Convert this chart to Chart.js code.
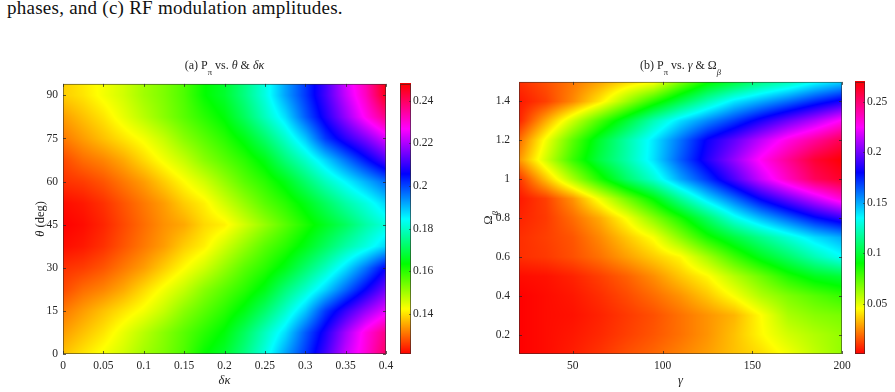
<!DOCTYPE html>
<html>
<head>
<meta charset="utf-8">
<script src="https://cdn.jsdelivr.net/npm/chart.js@4.4.1/dist/chart.umd.min.js"></script>
<style>
  body { margin: 0; background: #fff; width: 895px; height: 392px; overflow: hidden; position: relative; }
  #cap { position: absolute; left: 7px; top: -2px; font: 19px/20px "Liberation Serif", serif; letter-spacing: 0.25px; color: #111; white-space: nowrap; }
  canvas { position: absolute; top: 50px; }
  #pa { left: 0; }
  #pb { left: 450px; }
</style>
</head>
<body>
<div id="cap">phases, and (c) RF modulation amplitudes.</div>
<canvas id="pa" width="450" height="342"></canvas>
<canvas id="pb" width="445" height="342"></canvas>
<script>
// ---- panel (a): P_pi over delta-kappa (columns) and theta (rows) ----
const dKappa = [0, 0.025, 0.05, 0.075, 0.1, 0.125, 0.15, 0.175, 0.2, 0.225, 0.25, 0.275, 0.3, 0.325, 0.35, 0.375, 0.4];
const thetaDeg = [0, 7.5, 15, 22.5, 30, 37.5, 45, 52.5, 60, 67.5, 75, 82.5, 90, 97.5];
const pPiA = [
  [0.137, 0.140, 0.143, 0.146, 0.150, 0.153, 0.157, 0.163, 0.167, 0.174, 0.182, 0.192, 0.201, 0.211, 0.222, 0.230, 0.240],
  [0.134, 0.137, 0.140, 0.144, 0.148, 0.152, 0.156, 0.160, 0.164, 0.171, 0.179, 0.187, 0.198, 0.208, 0.219, 0.229, 0.237],
  [0.131, 0.134, 0.137, 0.140, 0.143, 0.147, 0.152, 0.156, 0.160, 0.165, 0.172, 0.180, 0.189, 0.201, 0.210, 0.218, 0.225],
  [0.127, 0.130, 0.132, 0.135, 0.139, 0.143, 0.147, 0.152, 0.156, 0.160, 0.165, 0.173, 0.180, 0.188, 0.197, 0.206, 0.215],
  [0.125, 0.126, 0.128, 0.131, 0.134, 0.138, 0.142, 0.146, 0.151, 0.156, 0.160, 0.165, 0.172, 0.179, 0.187, 0.196, 0.206],
  [0.122, 0.123, 0.125, 0.128, 0.131, 0.134, 0.138, 0.141, 0.146, 0.151, 0.156, 0.160, 0.165, 0.171, 0.177, 0.182, 0.188],
  [0.121, 0.122, 0.124, 0.127, 0.130, 0.133, 0.135, 0.139, 0.141, 0.146, 0.151, 0.156, 0.161, 0.166, 0.171, 0.177, 0.182],
  [0.122, 0.123, 0.125, 0.128, 0.131, 0.134, 0.138, 0.141, 0.146, 0.151, 0.156, 0.160, 0.165, 0.171, 0.177, 0.182, 0.188],
  [0.125, 0.126, 0.128, 0.131, 0.134, 0.138, 0.142, 0.146, 0.151, 0.156, 0.160, 0.165, 0.172, 0.179, 0.185, 0.191, 0.197],
  [0.127, 0.130, 0.132, 0.135, 0.139, 0.143, 0.147, 0.152, 0.156, 0.160, 0.165, 0.173, 0.180, 0.188, 0.196, 0.204, 0.212],
  [0.131, 0.134, 0.137, 0.140, 0.143, 0.147, 0.152, 0.156, 0.160, 0.165, 0.172, 0.180, 0.189, 0.201, 0.209, 0.216, 0.224],
  [0.134, 0.137, 0.140, 0.144, 0.148, 0.152, 0.156, 0.160, 0.164, 0.171, 0.179, 0.187, 0.198, 0.208, 0.218, 0.228, 0.237],
  [0.138, 0.140, 0.143, 0.146, 0.150, 0.153, 0.157, 0.163, 0.167, 0.174, 0.182, 0.192, 0.201, 0.211, 0.222, 0.232, 0.246],
  [0.138, 0.141, 0.143, 0.146, 0.150, 0.153, 0.157, 0.163, 0.167, 0.174, 0.182, 0.192, 0.201, 0.211, 0.224, 0.234, 0.248]
];
const dKappaTicks = [0, 0.05, 0.1, 0.15, 0.2, 0.25, 0.3, 0.35, 0.4];
const thetaTicks = [0, 15, 30, 45, 60, 75, 90];
const cbTicksA = [0.14, 0.16, 0.18, 0.2, 0.22, 0.24];
const cbRangeA = [0.121, 0.248];

// ---- panel (b): P_pi over gamma (columns) and Omega_beta (rows) ----
const gammaVals = [20, 35, 50, 65, 80, 95, 110, 125, 140, 155, 170, 185, 200];
const omegaBeta = [0.1, 0.2, 0.3, 0.4, 0.5, 0.6, 0.7, 0.8, 0.9, 1.0, 1.1, 1.2, 1.3, 1.4, 1.5];
const pPiB = [
  [0.000, 0.002, 0.005, 0.009, 0.014, 0.018, 0.023, 0.028, 0.034, 0.039, 0.047, 0.056, 0.064],
  [0.000, 0.002, 0.004, 0.007, 0.011, 0.015, 0.020, 0.026, 0.034, 0.044, 0.053, 0.059, 0.064],
  [0.000, 0.002, 0.003, 0.006, 0.010, 0.014, 0.020, 0.026, 0.032, 0.045, 0.060, 0.066, 0.069],
  [0.000, 0.002, 0.004, 0.008, 0.013, 0.019, 0.026, 0.035, 0.046, 0.059, 0.068, 0.075, 0.081],
  [0.002, 0.003, 0.006, 0.011, 0.017, 0.025, 0.035, 0.044, 0.058, 0.071, 0.085, 0.095, 0.100],
  [0.008, 0.010, 0.014, 0.020, 0.028, 0.036, 0.044, 0.061, 0.079, 0.095, 0.108, 0.122, 0.134],
  [0.008, 0.011, 0.015, 0.024, 0.035, 0.046, 0.066, 0.086, 0.101, 0.115, 0.128, 0.141, 0.150],
  [0.006, 0.010, 0.019, 0.030, 0.046, 0.066, 0.086, 0.108, 0.131, 0.148, 0.163, 0.178, 0.189],
  [0.004, 0.011, 0.026, 0.048, 0.070, 0.091, 0.117, 0.141, 0.161, 0.182, 0.199, 0.216, 0.233],
  [0.009, 0.034, 0.060, 0.085, 0.108, 0.127, 0.151, 0.171, 0.193, 0.216, 0.236, 0.254, 0.263],
  [0.026, 0.053, 0.080, 0.102, 0.120, 0.140, 0.164, 0.186, 0.206, 0.227, 0.244, 0.261, 0.270],
  [0.019, 0.047, 0.074, 0.098, 0.119, 0.139, 0.160, 0.182, 0.197, 0.214, 0.230, 0.243, 0.256],
  [0.006, 0.030, 0.054, 0.077, 0.099, 0.122, 0.141, 0.156, 0.170, 0.185, 0.199, 0.212, 0.227],
  [0.004, 0.011, 0.024, 0.041, 0.062, 0.083, 0.103, 0.122, 0.139, 0.150, 0.161, 0.173, 0.184],
  [0.008, 0.014, 0.021, 0.029, 0.038, 0.045, 0.068, 0.088, 0.100, 0.113, 0.122, 0.134, 0.143]
];
const gammaTicks = [50, 100, 150, 200];
const omegaTicks = [0.2, 0.4, 0.6, 0.8, 1, 1.2, 1.4];
const cbTicksB = [0.05, 0.1, 0.15, 0.2, 0.25];
const cbRangeB = [0, 0.27];

const FONT = '"Liberation Serif", "Times New Roman", serif';
const INK = '#262626';

// matlab-like hsv colormap, f in [0,1]
function hsvRGB(f) {
  f = Math.min(Math.max(f, 0), 1);
  const h = f * 6, i = Math.floor(h) % 6, t = h - Math.floor(h);
  const rgb = [[1, t, 0], [1 - t, 1, 0], [0, 1, t], [0, 1 - t, 1], [t, 0, 1], [1, 0, 1 - t]][i];
  return rgb.map(c => Math.round(c * 255));
}

// text with italic / subscript pieces, centred on (x, y)
function richText(ctx, segs, x, y, size, rot) {
  const fontOf = s => (s.it ? 'italic ' : '') + (s.sub ? size * 0.72 : size) + 'px ' + FONT;
  ctx.save();
  ctx.translate(x, y);
  ctx.rotate(rot || 0);
  let w = 0;
  segs.forEach(s => { ctx.font = fontOf(s); w += ctx.measureText(s.t).width; });
  let cx = -w / 2;
  ctx.fillStyle = INK;
  ctx.textAlign = 'left';
  ctx.textBaseline = 'alphabetic';
  segs.forEach(s => {
    ctx.font = fontOf(s);
    ctx.fillText(s.t, cx, size * 0.35 + (s.sub ? size * 0.45 : 0));
    cx += ctx.measureText(s.t).width;
  });
  ctx.restore();
}

// fractional grid position of v on an evenly spaced axis
function gridPos(arr, v) {
  const t = (v - arr[0]) / (arr[1] - arr[0]);
  return Math.min(Math.max(t, 0), arr.length - 1);
}

function panelPlugin(p) {
  return {
    id: 'heat' + p.key,
    afterDraw(chart) {
      const ctx = chart.ctx, ca = chart.chartArea;
      const {x, y, cb} = chart.scales;
      const span = p.range[1] - p.range[0];

      // heat map, shaded between grid values, placed by the x / y scales
      const w = Math.round(ca.width), h = Math.round(ca.height);
      const img = ctx.createImageData(w, h);
      const nx = p.xs.length, ny = p.ys.length;
      for (let py = 0; py < h; py++) {
        const fy = gridPos(p.ys, y.getValueForPixel(ca.top + py + 0.5));
        const j0 = Math.min(Math.floor(fy), ny - 2), ty = fy - j0;
        const r0 = p.z[j0], r1 = p.z[j0 + 1];
        for (let px = 0; px < w; px++) {
          const fx = gridPos(p.xs, x.getValueForPixel(ca.left + px + 0.5));
          const i0 = Math.min(Math.floor(fx), nx - 2), tx = fx - i0;
          const v = (r0[i0] * (1 - tx) + r0[i0 + 1] * tx) * (1 - ty) + (r1[i0] * (1 - tx) + r1[i0 + 1] * tx) * ty;
          const c = hsvRGB((v - p.range[0]) / span);
          const k = 4 * (py * w + px);
          img.data[k] = c[0]; img.data[k + 1] = c[1]; img.data[k + 2] = c[2]; img.data[k + 3] = 255;
        }
      }
      ctx.putImageData(img, Math.round(ca.left), Math.round(ca.top));

      // inward tick marks and box
      ctx.save();
      ctx.strokeStyle = 'rgba(40,40,40,0.75)';
      ctx.lineWidth = 1;
      ctx.beginPath();
      p.xTicks.forEach(v => {
        const px = Math.round(x.getPixelForValue(v)) + 0.5;
        ctx.moveTo(px, ca.bottom); ctx.lineTo(px, ca.bottom - 3);
        ctx.moveTo(px, ca.top); ctx.lineTo(px, ca.top + 3);
      });
      p.yTicks.forEach(v => {
        const py = Math.round(y.getPixelForValue(v)) + 0.5;
        ctx.moveTo(ca.left, py); ctx.lineTo(ca.left + 3, py);
        ctx.moveTo(ca.right, py); ctx.lineTo(ca.right - 3, py);
      });
      ctx.stroke();
      ctx.strokeStyle = 'rgba(40,40,40,0.55)';
      ctx.strokeRect(ca.left + 0.5, ca.top + 0.5, ca.width - 1, ca.height - 1);
      ctx.restore();

      // colour bar drawn along its own scale
      const bx = cb.left + p.cbGap;
      for (let py = Math.floor(ca.top); py < ca.bottom; py++) {
        const c = hsvRGB((cb.getValueForPixel(py + 0.5) - p.range[0]) / span);
        ctx.fillStyle = 'rgb(' + c.join(',') + ')';
        ctx.fillRect(bx, py, p.cbWidth, 1);
      }
      ctx.save();
      ctx.strokeStyle = 'rgba(40,40,40,0.6)';
      ctx.strokeRect(bx + 0.5, ca.top + 0.5, p.cbWidth - 1, ca.height - 1);
      ctx.beginPath();
      p.cbTicks.forEach(v => {
        const py = Math.round(cb.getPixelForValue(v)) + 0.5;
        ctx.moveTo(bx + p.cbWidth, py); ctx.lineTo(bx + p.cbWidth - 2, py);
      });
      ctx.stroke();
      ctx.restore();

      // panel title and axis titles
      richText(ctx, p.title, (ca.left + ca.right) / 2, 15, 12);
      richText(ctx, p.xTitle, (ca.left + ca.right) / 2, 330, 12.5);
      richText(ctx, p.yTitle, p.yTitleX, (ca.top + ca.bottom) / 2, 12.5, -Math.PI / 2);
    }
  };
}

function makePanel(id, p) {
  const tickFont = {family: FONT, size: 11.5};
  const fixed = arr => scale => { scale.ticks = arr.map(v => ({value: v})); };
  const plain = {display: false, drawTicks: false};
  return new Chart(document.getElementById(id), {
    type: 'scatter',
    data: {datasets: []},
    options: {
      responsive: false,
      animation: false,
      events: [],
      layout: {padding: {top: 27, left: 0, right: 0, bottom: 0}},
      plugins: {legend: {display: false}, tooltip: {enabled: false}, title: {display: false}},
      scales: {
        x: {
          type: 'linear', position: 'bottom', min: p.xRange[0], max: p.xRange[1],
          afterBuildTicks: fixed(p.xTicks),
          afterFit: s => { s.height = 38; },
          grid: plain, border: {display: false},
          ticks: {font: tickFont, color: INK, padding: 5, maxRotation: 0, autoSkip: false, callback: v => String(v)}
        },
        y: {
          type: 'linear', position: 'left', min: p.yRange[0], max: p.yRange[1],
          afterBuildTicks: fixed(p.yTicks),
          afterFit: s => { s.width = p.yAxisWidth; },
          grid: plain, border: {display: false},
          ticks: {font: tickFont, color: INK, padding: p.yPad, autoSkip: false, callback: v => String(v)}
        },
        cb: {
          type: 'linear', position: 'right', min: p.range[0], max: p.range[1],
          afterBuildTicks: fixed(p.cbTicks),
          afterFit: s => { s.width = p.cbAxisWidth; },
          grid: plain, border: {display: false},
          ticks: {font: tickFont, color: INK, padding: p.cbGap + p.cbWidth + 2, autoSkip: false, callback: v => String(v)}
        }
      }
    },
    plugins: [panelPlugin(p)]
  });
}

makePanel('pa', {
  key: 'a', xs: dKappa, ys: thetaDeg, z: pPiA, range: cbRangeA,
  xRange: [0, 0.4], yRange: [0, 94],
  xTicks: dKappaTicks, yTicks: thetaTicks, cbTicks: cbTicksA,
  yAxisWidth: 63, yPad: 5, cbAxisWidth: 64, cbGap: 14, cbWidth: 11, yTitleX: 40,
  title: [{t: '(a) P'}, {t: 'π', sub: true}, {t: ' vs. '}, {t: 'θ', it: true}, {t: ' & '}, {t: 'δκ', it: true}],
  xTitle: [{t: 'δκ', it: true}],
  yTitle: [{t: 'θ', it: true}, {t: ' (deg)'}]
});

makePanel('pb', {
  key: 'b', xs: gammaVals, ys: omegaBeta, z: pPiB, range: cbRangeB,
  xRange: [20, 200], yRange: [0.1, 1.5],
  xTicks: gammaTicks, yTicks: omegaTicks, cbTicks: cbTicksB,
  yAxisWidth: 69, yPad: 9, cbAxisWidth: 53, cbGap: 13, cbWidth: 10, yTitleX: 38,
  title: [{t: '(b) P'}, {t: 'π', sub: true}, {t: ' vs. '}, {t: 'γ', it: true}, {t: ' & Ω'}, {t: 'β', sub: true, it: true}],
  xTitle: [{t: 'γ', it: true}],
  yTitle: [{t: 'Ω'}, {t: 'β', sub: true, it: true}]
});
</script>
</body>
</html>
